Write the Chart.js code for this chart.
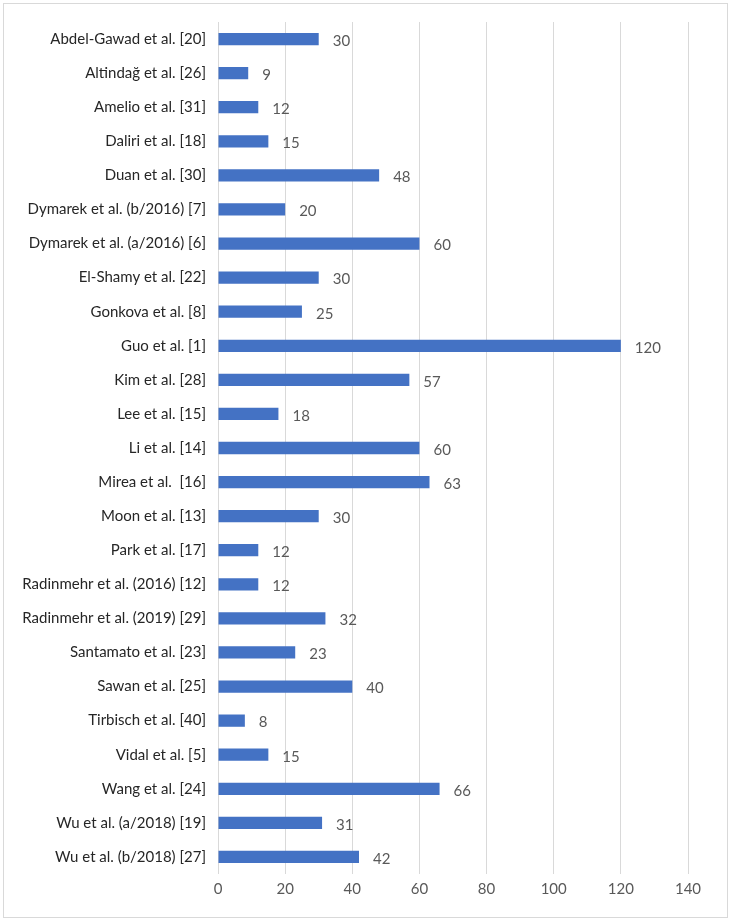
<!DOCTYPE html>
<html>
<head>
<meta charset="utf-8">
<script src="https://cdn.jsdelivr.net/npm/chart.js@4"></script>
<style>
    html, body { margin: 0; padding: 0; background: #fff; }
    #wrap { width: 731px; height: 921px; position: relative; }
</style>
</head>
<body>
<div id="wrap"><canvas id="studyChart" width="731" height="921"></canvas></div>
<script>
// Studies and their sample sizes
const studies = [
    'Abdel-Gawad et al. [20]', 'Altindağ et al. [26]', 'Amelio et al. [31]', 'Daliri et al. [18]',
    'Duan et al. [30]', 'Dymarek et al. (b/2016) [7]', 'Dymarek et al. (a/2016) [6]', 'El-Shamy et al. [22]',
    'Gonkova et al. [8]', 'Guo et al. [1]', 'Kim et al. [28]', 'Lee et al. [15]', 'Li et al. [14]',
    'Mirea et al.  [16]', 'Moon et al. [13]', 'Park et al. [17]', 'Radinmehr et al. (2016) [12]',
    'Radinmehr et al. (2019) [29]', 'Santamato et al. [23]', 'Sawan et al. [25]', 'Tirbisch et al. [40]',
    'Vidal et al. [5]', 'Wang et al. [24]', 'Wu et al. (a/2018) [19]', 'Wu et al. (b/2018) [27]'
];
const sampleSizes = [30, 9, 12, 15, 48, 20, 60, 30, 25, 120, 57, 18, 60, 63, 30, 12, 12, 32, 23, 40, 8, 15, 66, 31, 42];
const xTicks = [0, 20, 40, 60, 80, 100, 120, 140];

const FONT = 'Lato, "Open Sans", sans-serif';

// Draws the value to the right of each bar
const valueLabels = {
    id: 'valueLabels',
    afterDatasetsDraw(chart) {
        const ctx = chart.ctx;
        const meta = chart.getDatasetMeta(0);
        ctx.save();
        ctx.font = '15px ' + FONT;
        ctx.fillStyle = '#595959';
        ctx.textAlign = 'left';
        ctx.textBaseline = 'middle';
        meta.data.forEach((bar, i) => {
            ctx.fillText(String(sampleSizes[i]), bar.x + 14, bar.y + 2);
        });
        ctx.restore();
    }
};

// Light frame round the whole chart area
const frame = {
    id: 'frame',
    beforeDraw(chart) {
        const ctx = chart.ctx;
        ctx.save();
        ctx.fillStyle = '#fff';
        ctx.fillRect(0, 0, chart.width, chart.height);
        ctx.strokeStyle = '#d9d9d9';
        ctx.lineWidth = 1;
        ctx.strokeRect(3.5, 3.5, chart.width - 7, chart.height - 7);
        ctx.restore();
    }
};

new Chart(document.getElementById('studyChart').getContext('2d'), {
    type: 'bar',
    data: {
        labels: studies,
        datasets: [{
            data: sampleSizes,
            backgroundColor: '#4472c4',
            borderWidth: 0,
            categoryPercentage: 1,
            barPercentage: 0.36
        }]
    },
    options: {
        indexAxis: 'y',
        responsive: false,
        animation: false,
        layout: { padding: { top: 22, right: 43, bottom: 0, left: 0 } },
        plugins: {
            legend: { display: false },
            tooltip: { enabled: false }
        },
        scales: {
            x: {
                min: 0,
                max: 140,
                afterBuildTicks: scale => { scale.ticks = xTicks.map(v => ({ value: v })); },
                afterFit: scale => { scale.height = 47; },
                grid: { color: '#d9d9d9', lineWidth: 1, drawTicks: false },
                border: { display: false },
                ticks: { color: '#595959', font: { family: FONT, size: 15 }, padding: 6 }
            },
            y: {
                afterFit: scale => { scale.width = 218; },
                grid: { display: false, drawTicks: false },
                border: { display: false },
                ticks: { color: '#262626', font: { family: FONT, size: 15 }, padding: 12, autoSkip: false }
            }
        }
    },
    plugins: [frame, valueLabels]
});
</script>
</body>
</html>
